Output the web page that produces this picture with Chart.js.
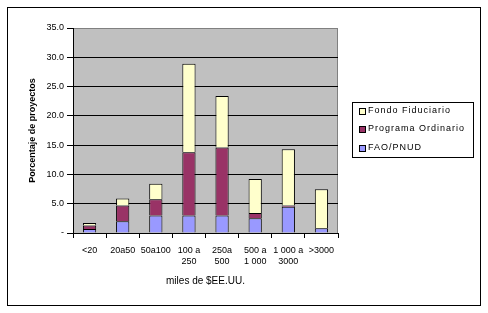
<!DOCTYPE html>
<html>
<head>
<meta charset="utf-8">
<script src="https://cdn.jsdelivr.net/npm/chart.js@4/dist/chart.umd.min.js"></script>
<style>
  html, body { margin: 0; padding: 0; background: #fff; }
  #wrap { width: 488px; height: 313px; }
</style>
</head>
<body>
<div id="wrap"><canvas id="fundChart" width="488" height="313"></canvas></div>
<script>
// categories (miles de $EE.UU.)
var categories = [['<20'], ['20a50'], ['50a100'], ['100 a', '250'], ['250a', '500'], ['500 a', '1 000'], ['1 000 a', '3000'], ['>3000']];

// series values (percent of projects)
var faoPnud = [0.7, 2.0, 3.0, 3.0, 3.0, 2.5, 4.5, 0.8];
var programaOrdinario = [0.6, 2.7, 2.75, 10.8, 11.6, 0.9, 0.2, 0.0];
var fondoFiduciario = [0.4, 1.2, 2.65, 15.1, 8.8, 5.8, 9.6, 6.65];

var yTicks = [0, 5, 10, 15, 20, 25, 30, 35];

var FONT = '"Liberation Sans", Arial, sans-serif';

// grey plot area, outer frame and the boxed legend
var framePlugin = {
    id: 'frame',
    beforeDraw: function (chart) {
        var c = chart.ctx;
        var a = chart.chartArea;
        c.save();
        c.fillStyle = '#fff';
        c.fillRect(0, 0, chart.width, chart.height);
        c.fillStyle = '#c0c0c0';
        c.fillRect(a.left, a.top, a.right - a.left, a.bottom - a.top);
        c.strokeStyle = '#808080';
        c.lineWidth = 1;
        c.beginPath();
        c.moveTo(a.left, a.top + 0.5);
        c.lineTo(a.right - 0.5, a.top + 0.5);
        c.lineTo(a.right - 0.5, a.bottom);
        c.stroke();
        c.strokeStyle = '#000';
        c.strokeRect(7.5, 7.5, 473, 298);
        c.restore();
    },
    afterDraw: function (chart) {
        var c = chart.ctx;
        c.save();
        c.fillStyle = '#fff';
        c.fillRect(352, 102, 122, 56);
        c.strokeStyle = '#000';
        c.lineWidth = 1;
        c.strokeRect(352.5, 102.5, 121, 55);
        var order = [2, 1, 0];
        var ys = [111, 129, 148];
        c.font = '9px ' + FONT;
        c.textBaseline = 'middle';
        if ('letterSpacing' in c) c.letterSpacing = '1px';
        order.forEach(function (idx, i) {
            var ds = chart.data.datasets[idx];
            c.fillStyle = ds.backgroundColor;
            c.fillRect(359.5, ys[i] - 2.5, 6, 6);
            c.strokeRect(359.5, ys[i] - 2.5, 6, 6);
            c.fillStyle = '#000';
            c.fillText(ds.label, 368, ys[i]);
        });
        c.restore();
    }
};

var ctx = document.getElementById('fundChart').getContext('2d');
var chart = new Chart(ctx, {
    type: 'bar',
    data: {
        labels: categories,
        datasets: [{
            label: 'FAO/PNUD',
            data: faoPnud,
            backgroundColor: '#9999ff',
            borderColor: '#000',
            borderWidth: 1
        }, {
            label: 'Programa Ordinario',
            data: programaOrdinario,
            backgroundColor: '#993366',
            borderColor: '#000',
            borderWidth: 1
        }, {
            label: 'Fondo Fiduciario',
            data: fondoFiduciario,
            backgroundColor: '#ffffcc',
            borderColor: '#000',
            borderWidth: 1
        }]
    },
    options: {
        responsive: false,
        animation: false,
        devicePixelRatio: 1,
        barPercentage: 0.4,
        categoryPercentage: 1.0,
        layout: { padding: { left: 27, top: 28, right: 150, bottom: 26 } },
        plugins: {
            legend: { display: false },
            tooltip: { enabled: false }
        },
        scales: {
            x: {
                stacked: true,
                afterFit: function (s) { s.height = 54; },
                border: { color: '#000', width: 1 },
                grid: { drawOnChartArea: false, drawTicks: true, tickLength: 5, color: '#000', offset: true },
                ticks: { color: '#000', font: { family: FONT, size: 9 }, padding: 7, maxRotation: 0, autoSkip: false },
                title: { display: true, text: 'miles de $EE.UU.', color: '#000', font: { family: FONT, size: 10 }, padding: 0 }
            },
            y: {
                stacked: true,
                min: 0,
                max: 35,
                afterFit: function (s) { s.width = 46; },
                afterBuildTicks: function (s) { s.ticks = yTicks.map(function (v) { return { value: v }; }); },
                border: { color: '#000', width: 1 },
                grid: {
                    color: function (c) { return c.tick && c.tick.value === 35 ? '#808080' : '#000'; },
                    tickColor: '#000',
                    tickLength: 6
                },
                ticks: {
                    color: '#000',
                    font: { family: FONT, size: 9 },
                    padding: 3,
                    callback: function (v) { return v === 0 ? '-' : v.toFixed(1); }
                },
                title: { display: true, text: 'Porcentaje de proyectos', color: '#000', font: { family: FONT, size: 9, weight: 'bold' }, padding: 0 }
            }
        }
    },
    plugins: [framePlugin]
});
</script>
</body>
</html>
